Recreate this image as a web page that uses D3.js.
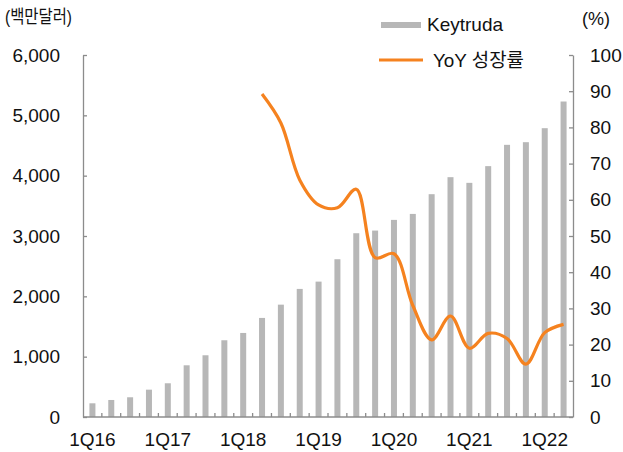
<!DOCTYPE html>
<html><head><meta charset="utf-8">
<script src="https://cdn.jsdelivr.net/npm/d3@7"></script>
<style>
html,body{margin:0;padding:0;background:#fff;}
svg{display:block;font-family:"Liberation Sans","Noto Sans CJK KR",sans-serif;}
</style></head>
<body><svg id="c" width="623" height="452"></svg>
<script>
const quarters = ["1Q16","2Q16","3Q16","4Q16","1Q17","2Q17","3Q17","4Q17","1Q18","2Q18","3Q18","4Q18","1Q19","2Q19","3Q19","4Q19","1Q20","2Q20","3Q20","4Q20","1Q21","2Q21","3Q21","4Q21","1Q22","2Q22"];
const keytruda = [227,282,327,453,559,857,1023,1272,1393,1642,1862,2123,2244,2615,3046,3090,3267,3366,3693,3975,3881,4158,4511,4555,4787,5229];
const yoy = [null,null,null,null,null,null,null,null,null,89.2,81.2,65.5,58.6,57.8,62.9,44.0,45.1,30.8,21.3,27.9,19.0,23.1,21.7,14.6,23.3,25.6];
const leftTicks = [0,1000,2000,3000,4000,5000,6000];
const rightTicks = [0,10,20,30,40,50,60,70,80,90,100];
const xLabels = ["1Q16","1Q17","1Q18","1Q19","1Q20","1Q21","1Q22"];

const svg = d3.select("#c");
const L = 83, R = 573, T = 55, B = 417;
const x = d3.scaleBand().domain(quarters).range([L, R]).padding(0);
const yL = d3.scaleLinear().domain([0, 6000]).range([B, T]);
const yR = d3.scaleLinear().domain([0, 100]).range([B, T]);
const axisCol = "#8c8c8c";
const fs = 19;

// bars
const bw = 6;
svg.append("g").selectAll("rect").data(quarters).join("rect")
  .attr("x", (d) => x(d) + x.bandwidth()/2 - bw/2)
  .attr("width", bw)
  .attr("y", (d,i) => yL(keytruda[i]))
  .attr("height", (d,i) => yL(0) - yL(keytruda[i]))
  .attr("fill", "#b7b7b7");

// left axis
const gl = svg.append("g").attr("transform", `translate(${L},0)`)
  .call(d3.axisLeft(yL).tickValues(leftTicks).tickFormat(d3.format(",")).tickSize(-4).tickSizeOuter(0).tickPadding(23));
// right axis
const gr = svg.append("g").attr("transform", `translate(${R},0)`)
  .call(d3.axisRight(yR).tickValues(rightTicks).tickFormat(d3.format("d")).tickSize(-4).tickSizeOuter(0).tickPadding(17));
[gl, gr].forEach(g => {
  g.select(".domain").attr("stroke", axisCol).attr("stroke-width", 1.3);
  g.selectAll(".tick line").attr("stroke", axisCol).attr("stroke-width", 1.3);
  g.selectAll(".tick text").attr("fill", "#111").style("font-size", fs + "px").attr("font-family", null);
});

// x axis
const gx = svg.append("g");
gx.append("line").attr("x1", L).attr("x2", R).attr("y1", B).attr("y2", B).attr("stroke", axisCol).attr("stroke-width", 1.3);
const bounds = quarters.map(q => x(q)).concat([R]);
gx.selectAll("line.t").data(bounds.slice(1, -1)).join("line").attr("class","t")
  .attr("x1", d => d).attr("x2", d => d).attr("y1", B).attr("y2", B - 4)
  .attr("stroke", axisCol).attr("stroke-width", 1.3);
gx.selectAll("text").data(xLabels).join("text")
  .attr("x", d => x(d) + x.bandwidth()/2).attr("y", 446)
  .attr("text-anchor", "middle").attr("fill", "#111").style("font-size", fs + "px").text(d => d);

// line
const pts = quarters.map((q,i) => ({q, v: yoy[i]})).filter(d => d.v != null);
svg.append("path").datum(pts)
  .attr("d", d3.line().x(d => x(d.q) + x.bandwidth()/2).y(d => yR(d.v)).curve(d3.curveCatmullRom.alpha(0.5)))
  .attr("fill", "none").attr("stroke", "#f5821f").attr("stroke-width", 3.2).attr("stroke-linejoin","round");

// unit labels
svg.append("text").attr("x", 5).attr("y", 23).attr("fill", "#111").style("font-size", "18px")
  .attr("textLength", 67).attr("lengthAdjust", "spacingAndGlyphs").text("(백만달러)");
svg.append("text").attr("x", 582).attr("y", 25).attr("fill", "#111").style("font-size", "18px").text("(%)");

// legend
svg.append("rect").attr("x", 381).attr("y", 22).attr("width", 40).attr("height", 6).attr("fill", "#b7b7b7");
svg.append("text").attr("x", 427).attr("y", 31).attr("fill", "#111").style("font-size", fs + "px").text("Keytruda");
svg.append("line").attr("x1", 379).attr("x2", 423).attr("y1", 60).attr("y2", 60).attr("stroke", "#f5821f").attr("stroke-width", 3.2);
svg.append("text").attr("x", 433).attr("y", 67).attr("fill", "#111").style("font-size", fs + "px")
  .attr("textLength", 91).attr("lengthAdjust", "spacingAndGlyphs").text("YoY 성장률");
</script></body></html>
